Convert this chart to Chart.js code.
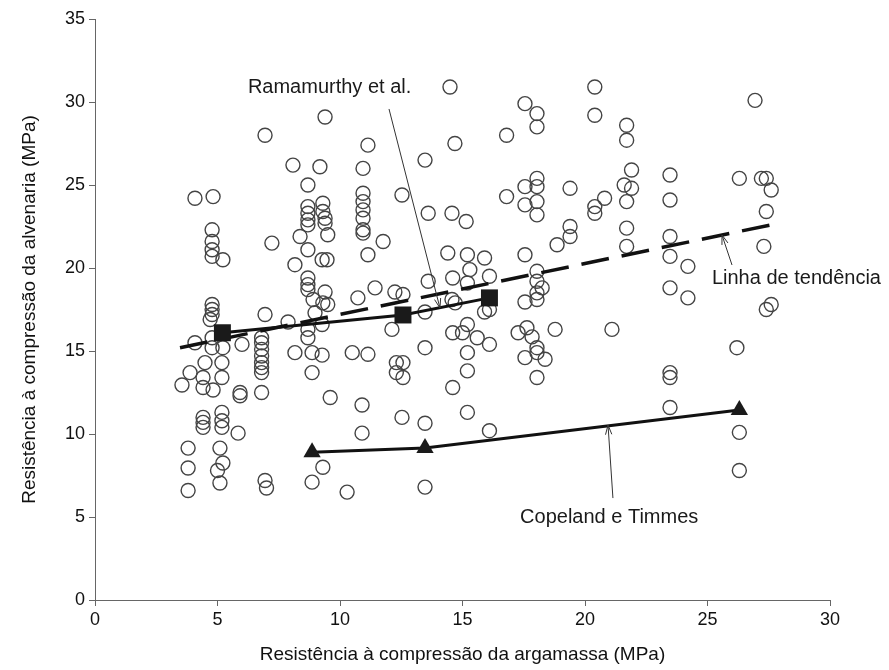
<!DOCTYPE html>
<html>
<head>
<meta charset="utf-8">
<script src="https://cdn.jsdelivr.net/npm/chart.js@4.4.1/dist/chart.umd.min.js"></script>
<style>
  html, body { margin: 0; padding: 0; background: #fff; }
  #wrap { width: 889px; height: 670px; }
</style>
</head>
<body>
<div id="wrap"><canvas id="chart" width="889" height="670"></canvas></div>
<script>
// mortar strength (x) vs masonry strength (y)
const mortarX = [
  6.94, 8.08, 9.18, 8.69, 4.08, 4.82, 8.69, 8.69, 8.69, 8.69,
  4.78, 4.78, 4.78, 4.78, 5.22, 7.22, 8.37, 8.69, 8.16, 8.69, 8.69, 8.69, 8.9, 8.98,
  4.78, 4.78, 4.78, 4.7, 6.94, 7.88, 8.69, 8.69, 4.08, 4.78, 4.78, 5.22, 6.0,
  6.8, 6.8, 6.8, 6.8, 6.8, 6.8, 6.8, 8.16, 8.86, 4.49, 5.18,
  3.88, 3.55, 4.41, 4.41, 4.82, 5.18, 5.92, 5.92, 6.8, 8.86,
  4.41, 4.41, 4.41, 5.18, 5.18, 5.18, 5.84,
  3.8, 3.8, 3.8, 5.1, 5.22, 5.0, 5.1, 6.94, 7.0, 8.86, 9.3,
  9.39, 11.14, 10.94, 13.47, 14.69, 14.49, 12.53,
  9.3, 9.3, 9.39, 9.39, 10.94, 10.94, 10.94, 10.94, 10.94, 10.94, 13.6, 14.57,
  9.5, 11.76, 11.14, 9.27, 9.47, 14.4, 15.2, 14.6, 13.6, 11.43, 12.24, 12.57, 10.73, 9.39,
  9.3, 9.5, 14.57, 14.7, 13.47, 9.27, 12.12, 14.6, 15.0, 13.47, 10.5, 11.14, 9.27, 12.3, 12.57, 15.2,
  12.3, 12.57, 15.2, 9.6, 10.9, 14.6, 15.2, 12.53, 13.47, 10.9, 10.29, 13.47,
  20.4, 20.4, 17.55, 18.04, 18.04, 16.8, 18.04, 17.55, 18.04, 19.39, 16.8, 17.55, 18.04, 18.04,
  20.8, 20.4, 20.4, 15.15,
  19.39, 19.39, 18.86, 15.9, 17.55, 15.3, 16.1, 18.04, 18.04, 18.25, 18.04, 18.04, 17.55, 15.2,
  15.9, 16.1, 15.2, 15.6, 16.1, 17.27, 17.63, 17.84, 18.78, 21.1, 18.04, 18.04, 17.55, 18.37,
  18.04, 16.1,
  26.94, 21.7, 21.7, 21.9, 21.6, 21.9, 21.7, 23.47, 23.47, 26.3, 27.2, 27.4, 27.6, 27.4,
  21.7, 21.7, 23.47, 23.47, 24.2, 23.47, 24.2, 27.3, 27.4, 27.6, 26.2,
  23.47, 23.47, 23.47, 26.3, 26.3
];
const masonryY = [
  28.0, 26.2, 26.1, 25.0, 24.2, 24.3, 23.7, 23.3, 22.9, 22.6,
  22.3, 21.6, 21.1, 20.7, 20.5, 21.5, 21.9, 21.1, 20.2, 19.4, 19.0, 18.7, 18.1, 17.3,
  17.8, 17.5, 17.2, 16.9, 17.2, 16.75, 16.3, 15.8, 15.5, 15.8, 15.2, 15.2, 15.4,
  15.8, 15.5, 15.1, 14.7, 14.3, 14.0, 13.7, 14.9, 14.9, 14.3, 14.3,
  13.7, 12.95, 13.4, 12.8, 12.65, 13.4, 12.5, 12.3, 12.5, 13.7,
  11.0, 10.7, 10.4, 11.3, 10.8, 10.4, 10.05,
  9.15, 7.95, 6.6, 9.15, 8.25, 7.8, 7.05, 7.2, 6.75, 7.1, 8.0,
  29.1, 27.4, 26.0, 26.5, 27.5, 30.9, 24.4,
  23.9, 23.4, 23.0, 22.7, 24.5, 24.0, 23.5, 23.0, 22.3, 22.1, 23.3, 23.3,
  22.0, 21.6, 20.8, 20.5, 20.5, 20.9, 20.8, 19.4, 19.2, 18.8, 18.55, 18.4, 18.2, 18.55,
  17.9, 17.8, 18.1, 17.9, 17.35, 16.6, 16.3, 16.1, 16.1, 15.2, 14.9, 14.8, 14.75, 14.3, 14.3, 14.9,
  13.7, 13.4, 13.8, 12.2, 11.75, 12.8, 11.3, 11.0, 10.65, 10.05, 6.5, 6.8,
  30.9, 29.2, 29.9, 29.3, 28.5, 28.0, 25.4, 24.9, 24.9, 24.8, 24.3, 23.8, 24.0, 23.2,
  24.2, 23.7, 23.3, 22.8,
  22.5, 21.9, 21.4, 20.6, 20.8, 19.9, 19.5, 19.8, 19.2, 18.8, 18.5, 18.1, 17.95, 19.1,
  17.35, 17.5, 16.6, 15.8, 15.4, 16.1, 16.4, 15.85, 16.3, 16.3, 15.2, 14.9, 14.6, 14.5,
  13.4, 10.2,
  30.1, 28.6, 27.7, 25.9, 25.0, 24.8, 24.0, 25.6, 24.1, 25.4, 25.4, 25.4, 24.7, 23.4,
  22.4, 21.3, 21.9, 20.7, 20.1, 18.8, 18.2, 21.3, 17.5, 17.8, 15.2,
  13.7, 13.4, 11.6, 10.1, 7.8
];

// trend line (dashed)
const trendX = [3.47, 27.6];
const trendY = [15.2, 22.6];

// Ramamurthy et al. (squares)
const ramX = [5.2, 12.57, 16.1];
const ramY = [16.1, 17.17, 18.2];

// Copeland e Timmes (triangles)
const copX = [8.86, 13.47, 26.3];
const copY = [8.9, 9.15, 11.45];

const xTicks = [0, 5, 10, 15, 20, 25, 30];
const yTicks = [0, 5, 10, 15, 20, 25, 30, 35];

const xTitle = 'Resistência à compressão da argamassa (MPa)';
const yTitle = 'Resistência à compressão da alvenaria (MPa)';

// callouts: text anchor + arrow, in data units
const notes = [
  { text: 'Ramamurthy et al.', at: [6.24, 30.54], from: [12.0, 29.58], to: [14.08, 17.59] },
  { text: 'Linha de tendência', at: [25.18, 19.04], from: [26.0, 20.18], to: [25.59, 21.99] },
  { text: 'Copeland e Timmes', at: [17.35, 4.64], from: [21.14, 6.14], to: [20.94, 10.54] }
];

const FONT = '"Liberation Sans", Arial, sans-serif';

function pts(xs, ys) {
  return xs.map((v, i) => ({ x: v, y: ys[i] }));
}

const notesPlugin = {
  id: 'notes',
  afterDatasetsDraw(chart) {
    const { ctx, scales: { x, y } } = chart;
    ctx.save();
    notes.forEach(n => {
      ctx.font = '20px ' + FONT;
      ctx.fillStyle = '#1a1a1a';
      ctx.textBaseline = 'alphabetic';
      ctx.fillText(n.text, x.getPixelForValue(n.at[0]), y.getPixelForValue(n.at[1]));

      const x1 = x.getPixelForValue(n.from[0]), y1 = y.getPixelForValue(n.from[1]);
      const x2 = x.getPixelForValue(n.to[0]), y2 = y.getPixelForValue(n.to[1]);
      ctx.strokeStyle = '#333';
      ctx.lineWidth = 1;
      ctx.beginPath();
      ctx.moveTo(x1, y1);
      ctx.lineTo(x2, y2);
      ctx.stroke();
      const ang = Math.atan2(y2 - y1, x2 - x1);
      const len = 10, spread = 0.32;
      ctx.beginPath();
      ctx.moveTo(x2 - len * Math.cos(ang - spread), y2 - len * Math.sin(ang - spread));
      ctx.lineTo(x2, y2);
      ctx.lineTo(x2 - len * Math.cos(ang + spread), y2 - len * Math.sin(ang + spread));
      ctx.stroke();
    });
    ctx.restore();
  }
};

new Chart(document.getElementById('chart'), {
  type: 'scatter',
  data: {
    datasets: [
      {
        label: 'Ramamurthy et al.',
        data: pts(ramX, ramY),
        showLine: true,
        borderColor: '#111',
        borderWidth: 3,
        pointStyle: 'rect',
        pointRadius: 12,
        pointBackgroundColor: '#1a1a1a',
        pointBorderColor: '#1a1a1a',
        pointBorderWidth: 0,
        order: 1
      },
      {
        label: 'Copeland e Timmes',
        data: pts(copX, copY),
        showLine: true,
        borderColor: '#111',
        borderWidth: 3,
        pointStyle: 'triangle',
        pointRadius: 10,
        pointBackgroundColor: '#1a1a1a',
        pointBorderColor: '#1a1a1a',
        pointBorderWidth: 0,
        order: 1
      },
      {
        label: 'Linha de tendência',
        data: pts(trendX, trendY),
        showLine: true,
        borderColor: '#111',
        borderWidth: 3.5,
        borderDash: [28, 13],
        pointRadius: 0,
        order: 2
      },
      {
        label: 'Dados',
        data: pts(mortarX, masonryY),
        pointStyle: 'circle',
        pointRadius: 7,
        pointBorderWidth: 1.4,
        pointBorderColor: '#444',
        pointBackgroundColor: 'rgba(0,0,0,0)',
        order: 3
      }
    ]
  },
  options: {
    responsive: false,
    animation: false,
    devicePixelRatio: 1,
    layout: { padding: { top: 19, right: 59, left: 0, bottom: 0 } },
    plugins: {
      legend: { display: false },
      tooltip: { enabled: false }
    },
    scales: {
      x: {
        type: 'linear',
        min: 0,
        max: 30,
        afterBuildTicks(s) { s.ticks = xTicks.map(v => ({ value: v })); },
        afterFit(s) { s.height = 70; },
        ticks: { color: '#111', font: { family: FONT, size: 18 }, padding: 3 },
        grid: { drawOnChartArea: false, drawTicks: true, tickLength: 6, color: '#666' },
        border: { display: true, color: '#666', width: 1 },
        title: { display: true, text: xTitle, color: '#111', font: { family: FONT, size: 19 }, padding: { top: 0, bottom: 4 } }
      },
      y: {
        type: 'linear',
        min: 0,
        max: 35,
        afterBuildTicks(s) { s.ticks = yTicks.map(v => ({ value: v })); },
        afterFit(s) { s.width = 95; },
        ticks: { color: '#111', font: { family: FONT, size: 18 }, padding: 4 },
        grid: { drawOnChartArea: false, drawTicks: true, tickLength: 6, color: '#666' },
        border: { display: true, color: '#666', width: 1 },
        title: { display: true, text: yTitle, color: '#111', font: { family: FONT, size: 19 }, padding: { top: 18, bottom: 0 } }
      }
    }
  },
  plugins: [notesPlugin]
});
</script>
</body>
</html>
